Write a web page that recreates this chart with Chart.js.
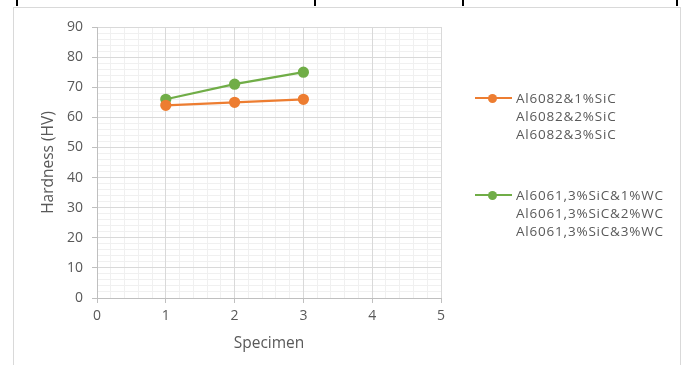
<!DOCTYPE html>
<html>
<head>
<meta charset="utf-8">
<script src="https://cdn.jsdelivr.net/npm/chart.js@4.4.0/dist/chart.umd.min.js"></script>
<style>
    body { margin: 0; background: #fff; }
    #wrap { position: relative; width: 686px; height: 365px; overflow: hidden; font-family: "Open Sans", sans-serif; }
    .cell { position: absolute; top: 0; width: 2px; height: 6px; background: #000; }
    #frame { position: absolute; left: 13px; top: 7px; width: 666px; height: 400px; border: 1px solid #d9d9d9; border-bottom: none; }
    #chart { position: absolute; left: 0; top: 0; }
    .legend { position: absolute; left: 475px; color: #595959; font-size: 13.5px; letter-spacing: 0.8px; line-height: 18px; }
    .legend .row { display: flex; align-items: center; }
    .legend .key { position: relative; width: 37px; height: 18px; margin-right: 4px; }
    .legend .key i { position: absolute; left: 0; right: 0; top: 8px; height: 2px; }
    .legend .key b { position: absolute; left: 13px; top: 4.5px; width: 9px; height: 9px; border-radius: 50%; }
    .legend .more { padding-left: 41px; }
</style>
</head>
<body>
<div id="wrap">
    <div class="cell" style="left:16px"></div>
    <div class="cell" style="left:314px"></div>
    <div class="cell" style="left:462px"></div>
    <div class="cell" style="left:676px"></div>
    <div id="frame"></div>
    <canvas id="chart" width="686" height="365"></canvas>
    <div id="legend"></div>
</div>
<script>
document.addEventListener("DOMContentLoaded", function () {

    var specimens = [1, 2, 3];
    var al6082 = [64, 65, 66];
    var al6061 = [66, 71, 75];

    var al6082Labels = ['Al6082&1%SiC', 'Al6082&2%SiC', 'Al6082&3%SiC'];
    var al6061Labels = ['Al6061,3%SiC&1%WC', 'Al6061,3%SiC&2%WC', 'Al6061,3%SiC&3%WC'];

    var orange = '#ED7D31';
    var green = '#70AD47';
    var tickColor = '#595959';

    function points(ys) {
        return specimens.map((x, i) => ({ x: x, y: ys[i] }));
    }

    var series = [
        { labels: al6082Labels, data: al6082, color: orange, top: 89 },
        { labels: al6061Labels, data: al6061, color: green, top: 186 }
    ];

    var ctx = document.getElementById('chart').getContext('2d');
    new Chart(ctx, {
        type: 'line',
        data: {
            datasets: series.map(s => ({
                label: s.labels[0],
                data: points(s.data),
                borderColor: s.color,
                backgroundColor: s.color,
                borderWidth: 2.25,
                pointRadius: 4.5,
                pointHoverRadius: 4.5,
                tension: 0
            }))
        },
        options: {
            responsive: false,
            animation: false,
            layout: { padding: { left: 30, top: 27, right: 245, bottom: 7 } },
            plugins: { legend: { display: false }, tooltip: { enabled: false } },
            scales: {
                xMinor: {
                    type: 'linear', min: 0, max: 5, position: 'bottom',
                    ticks: { display: false, stepSize: 0.2 },
                    grid: { color: '#f0f0f0', lineWidth: 1, drawTicks: false, z: -2 },
                    border: { display: false },
                    afterFit: function (s) { s.height = 0; }
                },
                yMinor: {
                    type: 'linear', min: 0, max: 90, position: 'left',
                    ticks: { display: false, stepSize: 2 },
                    grid: { color: '#f0f0f0', lineWidth: 1, drawTicks: false, z: -2 },
                    border: { display: false },
                    afterFit: function (s) { s.width = 0; }
                },
                x: {
                    type: 'linear', min: 0, max: 5, position: 'bottom',
                    ticks: { stepSize: 1, color: tickColor, font: { family: 'Open Sans', size: 14 }, padding: 5 },
                    grid: { color: '#d9d9d9', tickLength: 5, tickColor: '#bfbfbf' },
                    border: { color: '#bfbfbf' },
                    title: { display: true, text: 'Specimen', color: tickColor, font: { family: 'Open Sans', size: 15.5 }, padding: { top: 4, bottom: 5 } },
                    afterFit: function (s) { s.height = 60; }
                },
                y: {
                    type: 'linear', min: 0, max: 90, position: 'left',
                    ticks: { stepSize: 10, color: tickColor, font: { family: 'Open Sans', size: 14 }, padding: 9 },
                    grid: { color: '#d9d9d9', tickLength: 5, tickColor: '#bfbfbf' },
                    border: { color: '#bfbfbf' },
                    title: { display: true, text: 'Hardness (HV)', color: tickColor, font: { family: 'Open Sans', size: 15.5 }, padding: { top: 9, bottom: 4 } },
                    afterFit: function (s) { s.width = 67; }
                }
            }
        }
    });

    var legend = document.getElementById('legend');
    series.forEach(function (s) {
        var box = document.createElement('div');
        box.className = 'legend';
        box.style.top = s.top + 'px';
        var html = `<div class="row"><span class="key"><i style="background:${s.color}"></i><b style="background:${s.color}"></b></span>${s.labels[0]}</div>`;
        s.labels.slice(1).forEach(function (t) {
            html += `<div class="more">${t}</div>`;
        });
        box.innerHTML = html;
        legend.appendChild(box);
    });
});
</script>
</body>
</html>
